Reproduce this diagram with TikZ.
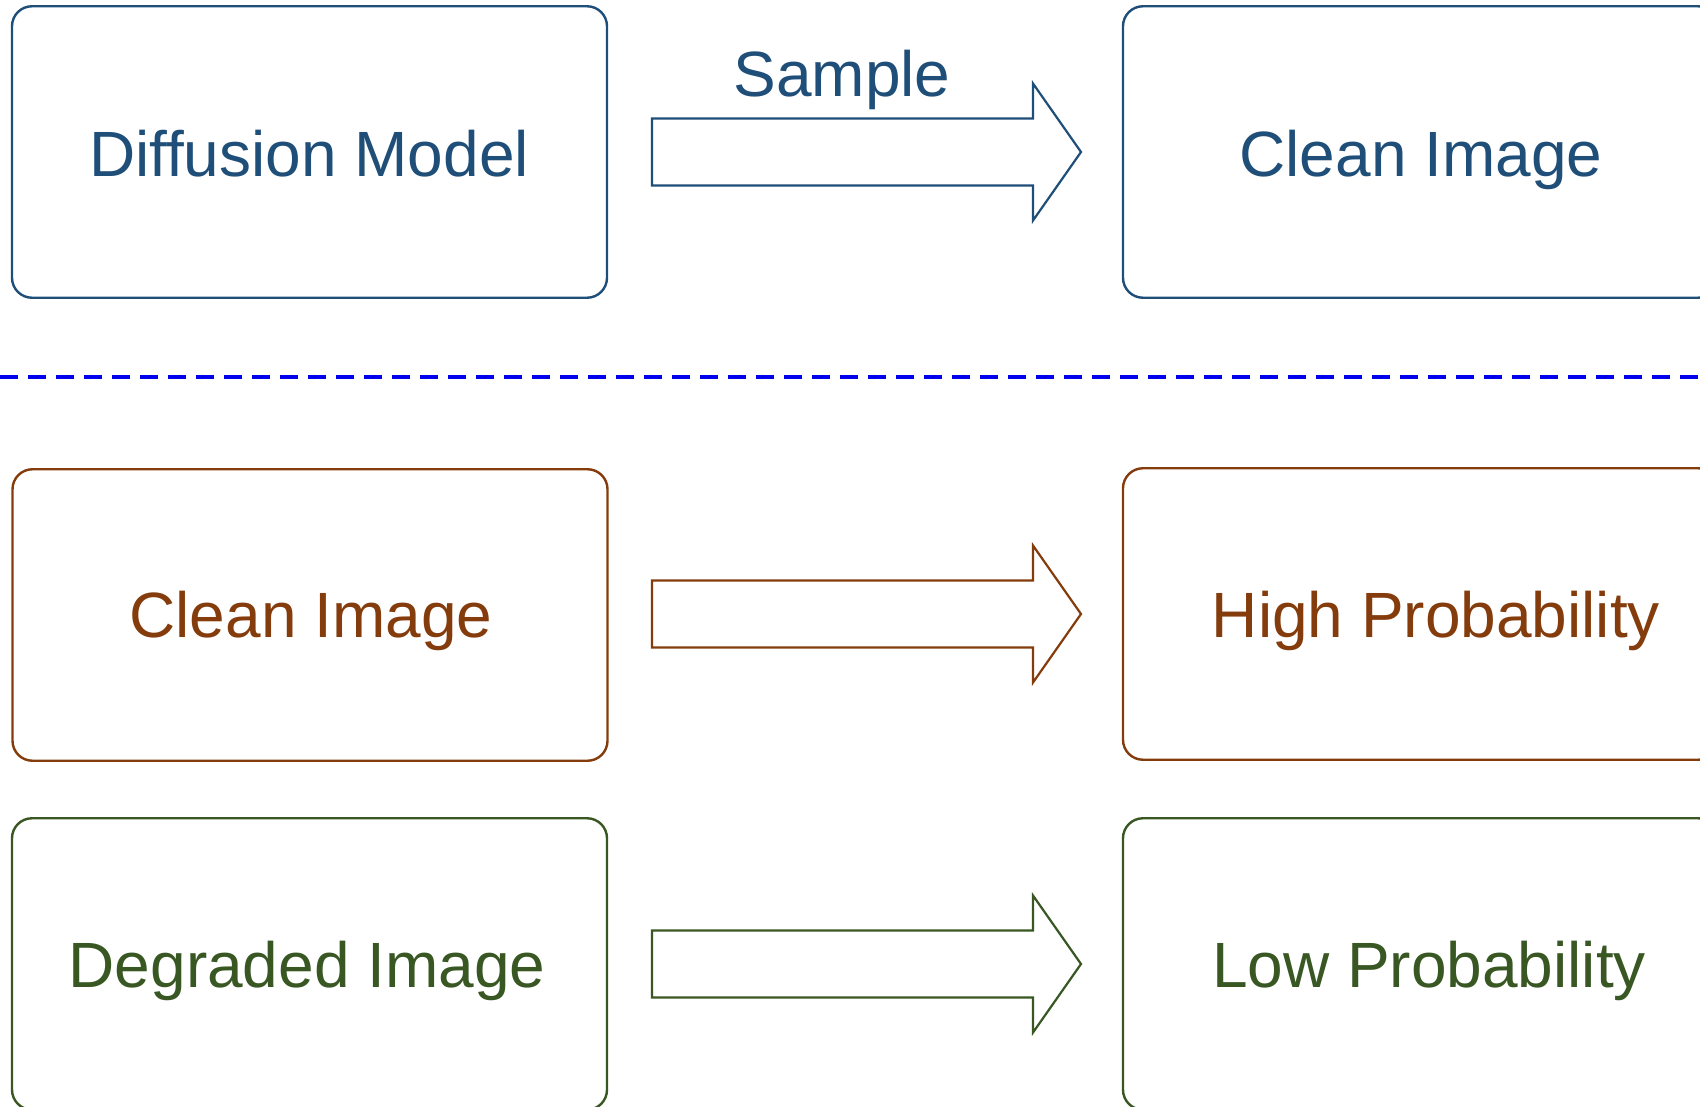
\documentclass[tikz,border=0pt]{standalone}
\usepackage{fontspec}
\setmainfont{Liberation Sans}

\definecolor{navy}{RGB}{31,78,121}
\definecolor{rust}{RGB}{132,60,12}
\definecolor{moss}{RGB}{56,87,35}
\definecolor{divider}{RGB}{0,0,238}

\tikzset{
  box/.style={draw=#1, line width=2.4pt, rounded corners=20pt,
              minimum width=595pt, minimum height=291.5pt, inner sep=0pt},
  lbl/.style={text=#1, font=\fontsize{64}{72}\selectfont, anchor=base, inner sep=0pt},
  fat arrow/.style={draw=#1, line width=2.2pt, line join=miter, fill=white},
  divider line/.style={draw=divider, line width=3.2pt, dash pattern=on 18pt off 10pt},
  pics/fatarrow/.style={code={
    \draw[fat arrow=#1] (0,-33.5) -- (381,-33.5) -- (381,-68.5) -- (429,0)
      -- (381,68.5) -- (381,33.5) -- (0,33.5) -- cycle;
  }},
}

\begin{document}
\begin{tikzpicture}[x=1pt, y=-1pt]
  \useasboundingbox (0,0) rectangle (1700,1107);
  \clip (0,0) rectangle (1700,1107);

  % sampling row
  \node[box=navy] (dm)  at (309.5,152) {};
  \node[box=navy] (ci1) at (1420.5,152) {};
  \node[lbl=navy] (dmt)  at (309,177) {Diffusion Model};
  \node[lbl=navy] (ci1t) at (1421,177) {Clean Image};
  \pic (a1) at (652,152) {fatarrow=navy};
  \node[lbl=navy] (smp) at (842,97) {Sample};

  % separator
  \coordinate (dl) at (0,377);
  \coordinate (dr) at (1700,377);
  \draw[divider line] (dl) -- (dr);

  % clean image row
  \node[box=rust] (ci2) at (310,615) {};
  \node[box=rust] (hp)  at (1420.5,614) {};
  \node[lbl=rust] (ci2t) at (311,637) {Clean Image};
  \node[lbl=rust] (hpt)  at (1436,637) {High Probability};
  \pic (a2) at (652,614) {fatarrow=rust};

  % degraded image row
  \node[box=moss] (dg) at (309.5,964) {};
  \node[box=moss] (lp) at (1420.5,964) {};
  \node[lbl=moss] (dgt) at (307,987) {Degraded Image};
  \node[lbl=moss] (lpt) at (1429,987) {Low Probability};
  \pic (a3) at (652,964) {fatarrow=moss};
\end{tikzpicture}
\end{document}
